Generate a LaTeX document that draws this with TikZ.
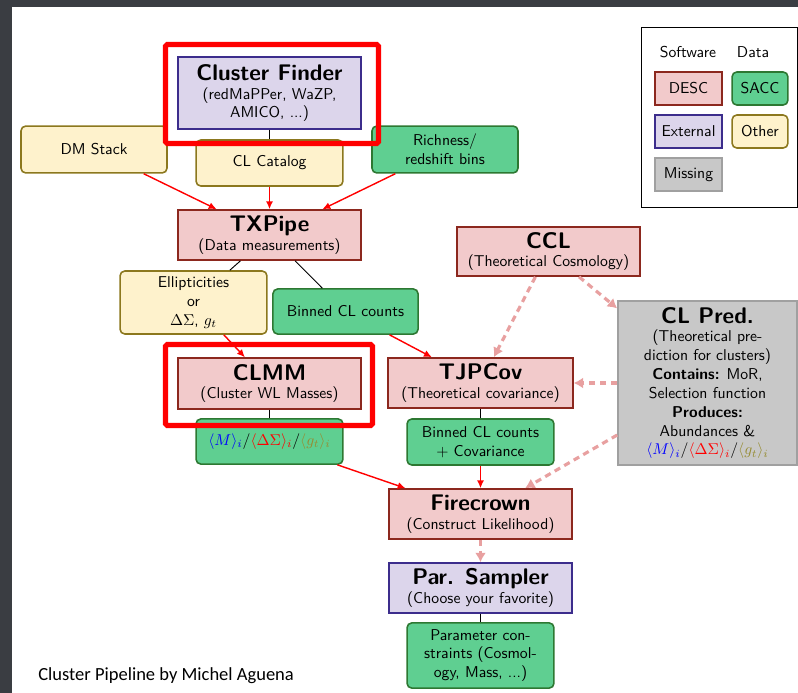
\documentclass[tikz,border=0pt]{standalone}
\usepackage{fontspec}
\usepackage{amsmath}
\usepackage{xcolor}
\usepackage{tikz}
\usetikzlibrary{arrows.meta}
\newfontfamily\notefont{Carlito}
\renewcommand{\familydefault}{\sfdefault}

\definecolor{slidebg}{RGB}{58,61,66}
\definecolor{descfill}{RGB}{242,202,203}
\definecolor{descdraw}{RGB}{140,40,30}
\definecolor{extfill}{RGB}{220,213,235}
\definecolor{extdraw}{RGB}{60,45,140}
\definecolor{saccfill}{RGB}{95,207,145}
\definecolor{saccdraw}{RGB}{45,120,50}
\definecolor{otherfill}{RGB}{254,242,204}
\definecolor{otherdraw}{RGB}{140,120,30}
\definecolor{missfill}{RGB}{200,200,200}
\definecolor{missdraw}{RGB}{160,160,160}
\definecolor{theorypink}{RGB}{232,160,160}
\definecolor{hlred}{RGB}{255,0,0}
\definecolor{gtolive}{RGB}{150,140,50}

\newcommand{\boxtitle}[1]{{\Large\bfseries #1}}
\newcommand{\wlprofiles}{\textcolor{blue}{$\langle M\rangle_i$}/\textcolor{red}{$\langle\Delta\Sigma\rangle_i$}/\textcolor{gtolive}{$\langle g_t\rangle_i$}}

\tikzset{
	box/.style={draw, line width=1pt, align=center, inner sep=2pt},
	desc/.style={box, fill=descfill, draw=descdraw},
	ext/.style={box, fill=extfill, draw=extdraw},
	missing/.style={box, fill=missfill, draw=missdraw},
	databox/.style={box, rounded corners=3pt},
	sacc/.style={databox, fill=saccfill, draw=saccdraw},
	other/.style={databox, fill=otherfill, draw=otherdraw},
	link/.style={black, line width=0.6pt},
	flow/.style={red, line width=0.9pt, -{Latex[length=5pt,width=4.5pt]}},
	theory/.style={theorypink, line width=2pt, dash pattern=on 4pt off 3pt, -{Latex[length=6pt,width=7pt]}},
	highlight/.style={draw=hlred, line width=3.2pt, rounded corners=1pt}
}

\begin{document}
\begin{tikzpicture}[x=0.0224cm, y=-0.0224cm]
	% slide
	\fill[slidebg] (0,0) rectangle (798,693);
	\fill[white] (12,7) rectangle (798,693);
	\useasboundingbox (0,0) rectangle (798,693);

	% legend
	\draw[line width=0.6pt] (641,27) rectangle (797,207);
	\node (software) at (688,52) {Software};
	\node (data) at (753,52) {Data};
	\node[desc, minimum width=1.50cm, minimum height=0.74cm] (kdesc) at (688.5,88.5) {DESC};
	\node[sacc, minimum width=1.25cm, minimum height=0.74cm] (ksacc) at (760,88.5) {SACC};
	\node[ext, minimum width=1.50cm, minimum height=0.74cm] (kext) at (688.5,131.5) {External};
	\node[other, minimum width=1.25cm, minimum height=0.74cm] (kother) at (760,131.5) {Other};
	\node[missing, minimum width=1.50cm, minimum height=0.74cm] (kmiss) at (688.5,174.5) {Missing};

	% pipeline
	\node[ext, minimum width=4.10cm, minimum height=1.61cm] (finder) at (269.5,93) {\boxtitle{Cluster Finder}\\(redMaPPer, WaZP,\\AMICO, ...)};
	\node[other, minimum width=3.27cm, minimum height=1.05cm] (dmstack) at (94,149.5) {DM Stack};
	\node[other, minimum width=3.29cm, minimum height=1.03cm] (catalog) at (269.5,163) {CL Catalog};
	\node[sacc, minimum width=3.27cm, minimum height=1.05cm] (bins) at (445,149.5) {Richness/\\redshift bins};
	\node[desc, minimum width=4.10cm, minimum height=1.12cm] (txpipe) at (269.5,235) {\boxtitle{TXPipe}\\(Data measurements)};
	\node[other, minimum width=3.29cm, minimum height=1.41cm] (shear) at (193.5,302.5) {Ellipticities\\or\\$\Delta\Sigma$, $g_t$};
	\node[sacc, minimum width=3.25cm, minimum height=1.01cm] (counts) at (345.5,311.5) {Binned CL counts};
	\node[desc, minimum width=4.10cm, minimum height=1.14cm] (clmm) at (269.5,383.5) {\boxtitle{CLMM}\\(Cluster WL Masses)};
	\node[sacc, minimum width=3.29cm, minimum height=1.01cm] (profiles) at (269.5,441.5) {\wlprofiles};
	\node[desc, minimum width=4.10cm, minimum height=1.10cm] (ccl) at (548.5,251.5) {\boxtitle{CCL}\\(Theoretical Cosmology)};
	\node[desc, minimum width=4.14cm, minimum height=1.12cm] (tjpcov) at (480.5,383) {\boxtitle{TJPCov}\\(Theoretical covariance)};
	\node[missing, minimum width=4.01cm, minimum height=3.67cm] (clpred) at (707.5,383) {\boxtitle{CL Pred.}\\(Theoretical pre-\\diction for clusters)\\\textbf{Contains:} MoR,\\Selection function\\\textbf{Produces:}\\Abundances \&\\\wlprofiles};
	\node[sacc, minimum width=3.29cm, minimum height=1.03cm] (countscov) at (480.5,442) {Binned CL counts\\+ Covariance};
	\node[desc, minimum width=4.10cm, minimum height=1.12cm] (firecrown) at (480.5,514) {\boxtitle{Firecrown}\\(Construct Likelihood)};
	\node[ext, minimum width=4.10cm, minimum height=1.12cm] (sampler) at (480.5,588) {\boxtitle{Par. Sampler}\\(Choose your favorite)};
	\node[sacc, minimum width=3.29cm, minimum height=1.46cm] (constraints) at (480.5,655.5) {Parameter con-\\straints (Cosmol-\\ogy, Mass, ...)};

	% connectors
	\draw[link] (finder) -- (catalog);
	\draw[link] (txpipe) -- (shear);
	\draw[link] (txpipe) -- (counts);
	\draw[link] (clmm) -- (profiles);
	\draw[link] (tjpcov) -- (countscov);
	\draw[link] (sampler) -- (constraints);
	\draw[flow] (dmstack) -- (txpipe);
	\draw[flow] (catalog) -- (txpipe);
	\draw[flow] (bins) -- (txpipe);
	\draw[flow] (shear) -- (clmm);
	\draw[flow] (counts) -- (tjpcov);
	\draw[flow] (profiles) -- (firecrown);
	\draw[flow] (countscov) -- (firecrown);
	\draw[theory] (ccl) -- (tjpcov);
	\draw[theory] (ccl) -- (clpred);
	\draw[theory] (clpred) -- (tjpcov);
	\draw[theory] (clpred) -- (firecrown);
	\draw[theory] (firecrown) -- (sampler);

	% highlights
	\draw[highlight] (165.5,44.5) rectangle (378.5,143.5);
	\draw[highlight] (165.5,344.5) rectangle (372.5,425.5);

	\node[anchor=base west, inner sep=0pt, font=\notefont\fontsize{11.8}{14}\selectfont] (credit) at (38,680) {Cluster Pipeline by Michel Aguena};
\end{tikzpicture}
\end{document}
